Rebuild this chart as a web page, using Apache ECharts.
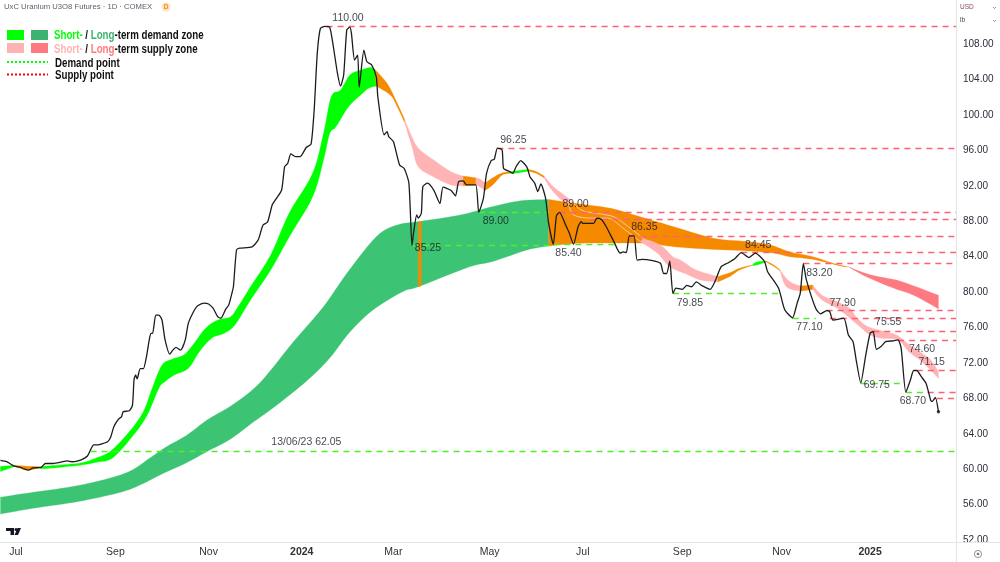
<!DOCTYPE html>
<html>
<head>
<meta charset="utf-8">
<title>UxC Uranium U3O8 Futures</title>
<style>html,body{margin:0;padding:0;background:#fff}#chart{width:1000px;height:562px}</style>
<script src="https://cdn.jsdelivr.net/npm/echarts@6/dist/echarts.min.js"></script>
</head>
<body>
<div id="chart"></div>
<script>
// Daily close as [days since 1 Jul 2023, USD/lb]
const price = [[-10,61],[-6,60.85],[-4,60.65],[-1,60.35],[3,60.2],[5,60.05],[8,59.9],[11,60.15],[16,60.2],[19,60.65],[24,60.65],[29,60.8],[33,60.95],[36,60.85],[40,60.95],[43,61.15],[46,61.5],[48,62.2],[50,62.75],[53,62.75],[55,62.85],[59,63.1],[61,63.65],[63,64.8],[66,65.65],[68,65.95],[69,66.5],[73,66.6],[75,67.25],[76,70.1],[77,70.65],[78,70.2],[80,71.35],[82,71.35],[84,72.7],[86,74.8],[87,75.35],[88,75.35],[90,77.4],[92,77.4],[94,76.85],[96,74.6],[99,73],[101,73.45],[103,73.75],[106,73.45],[109,74.6],[111,76.5],[115,78],[117,78.45],[121,78.75],[124,78.65],[127,78.15],[130,77.2],[132,77.05],[135,78.05],[137,78.55],[139,79.85],[140,80.6],[142,84.75],[144,84.95],[152,85.1],[156,85.9],[159,87.55],[162,87.9],[165,89.85],[167,90.4],[171,91.5],[173,94.15],[175,94.55],[177,95.6],[180,95.3],[183,95.3],[187,96.35],[190,96.7],[192,100.55],[194,106.95],[196,109.75],[199,110],[202,109.9],[204,108.1],[207,104.7],[209,103.25],[211,104.5],[213,109.6],[215,109.9],[216,109.2],[218,106.2],[220,106.75],[221,103.1],[224,107.3],[226,106],[229,105.65],[232,104.3],[233,102.05],[237,97.75],[239,98.1],[240,97.55],[243,97],[247,94.35],[250,93.95],[253,92.3],[255,85.25],[256,86.65],[258,88.7],[259,88.35],[261,88.9],[262,91.9],[265,92.3],[269,91.5],[273,90],[275,91.85],[280,91.5],[283,90.85],[285,92.45],[288,92.55],[290,92.1],[296,92.1],[298,89],[301,90.6],[303,93.4],[306,94.85],[308,95],[310,96.25],[313,96.05],[314,93.95],[318,93.6],[320,93.4],[322,94.15],[325,94.85],[329,94.1],[331,93],[334,92.3],[336,91.35],[338,92.2],[341,90.6],[343,87.75],[346,85.4],[348,88.6],[350,89],[354,87.55],[356,86.8],[359,85.4],[362,87.4],[364,87.95],[365,87.75],[372,87.75],[374,88.35],[377,88.2],[380,87.4],[385,85.7],[389,84.4],[391,84.55],[393,84.45],[395,86.35],[398,86.35],[400,83.6],[403,83.7],[410,83.55],[415,83.25],[417,82.1],[419,82.1],[421,83.5],[423,79.85],[425,80.45],[429,80.3],[432,80.75],[435,80.6],[438,81.15],[442,80.7],[447,80.3],[450,81.15],[454,82.85],[458,83.25],[463,83.8],[467,84.45],[472,83.9],[476,84.4],[482,83.45],[484,82.3],[491,80.45],[495,78],[500,77.1],[503,78.75],[505,79.85],[507,83.2],[509,81.35],[515,78.15],[518,77.55],[522,77.9],[524,77.8],[526,76.85],[533,77.05],[536,75.15],[539,74.4],[541,72.35],[544,69.75],[547,72.7],[550,75.35],[552,75.55],[554,73.55],[557,73.85],[560,74.4],[565,74.5],[568,74.6],[570,73.65],[573,68.7],[576,70.1],[578,71.15],[580,71.15],[583,70.45],[586,69.7],[589,67.8],[590,67.65],[592,68.1],[594,66.5]];

// Long-term zone edges
const longDemandTop = [[-10,56.85],[11,57.4],[33,57.95],[54,58.7],[73,59.75],[86,61.25],[97,62.55],[110,63.85],[123,65.55],[140,67.35],[157,69.75],[178,74.25],[198,78.35],[213,82.1],[232,86.25],[245,87.55],[259,87.95],[286,88.7],[307,89.65],[325,90.3],[343,90.45]];
const longDemandBottom = [[-10,54.95],[11,55.6],[33,56.15],[54,56.85],[71,57.6],[82,58.4],[95,59.55],[110,60.75],[123,62],[138,63.4],[153,65.35],[168,67.25],[188,70.1],[202,72.55],[215,75.5],[230,78],[249,80.05],[259,80.6],[292,82.85],[307,83.45],[329,84.75],[343,85.2]];
const longSpikeTop = [[259,87.95],[261,87.95]];
const longSpikeBottom = [[259,80.6],[261,80.7]];
const longNeutralTop = [[343,90.45],[363,89.95],[383,89.45],[402,88.5],[423,87.4],[441,86.45],[453,85.95],[471,85.7],[486,85.3],[498,84.55],[513,84],[526,83.25],[536,82.85]];
const longNeutralBottom = [[343,85.2],[361,85.5],[384,85.55],[406,85.5],[425,85.1],[445,84.85],[471,84.65],[488,84.4],[498,84],[513,83.7],[531,82.95],[536,82.85]];
const longSupplyTop = [[536,82.85],[550,81.95],[567,81.35],[578,80.7],[594,79.65]];
const longSupplyBottom = [[536,82.85],[548,81.7],[565,80.45],[578,79.65],[594,78.1]];

// Short-term zone edges, segment by segment
const shortDemand1Top = [[-10,60.3],[-1,60.45]];
const shortDemand1Bottom = [[-10,59.75],[-1,60.3]];
const shortNeutral1Top = [[-1,60.45],[7,60.35],[16,60.3]];
const shortNeutral1Bottom = [[-1,60.3],[3,60.1],[8,59.9],[16,60.2]];
const shortDemand2Top = [[16,60.3],[33,60.55],[43,60.75],[52,61.3],[61,62.05],[73,64.25],[82,66.5],[88,69.3],[94,71.75],[100,72.4],[108,72.9],[114,74.05],[122,75.9],[130,76.85],[138,77.2],[143,78.35],[151,80.6],[164,84.2],[176,88.95],[191,93.4],[198,97.9],[203,102.05],[209,102.8],[215,104.5],[222,105.05],[228,105.35],[231,105.15]];
const shortDemand2Bottom = [[16,60.2],[17,60.05],[33,60.3],[43,60.5],[52,60.8],[62,61.25],[74,63.5],[84,65.95],[92,69.15],[96,69.9],[102,70.65],[111,71.4],[118,73.25],[126,74.8],[134,75.35],[141,76.3],[151,79.1],[164,82.5],[176,86.25],[191,90.75],[198,94.9],[202,97.9],[206,98.65],[214,100.9],[222,102.25],[227,103],[232,103.25]];
const shortNeutral2Top = [[231,105.15],[239,103.55],[245,101.5],[250,99.6]];
const shortNeutral2Bottom = [[232,103.25],[241,102.25],[245,101.1],[250,99.25]];
const shortSupply1Top = [[250,99.6],[254,97.9],[259,96.25],[269,94.9],[280,93.6],[288,93.1]];
const shortSupply1Bottom = [[250,99.25],[255,96.4],[259,94.15],[269,93],[280,92.1],[288,92]];
const shortNeutral3Top = [[288,93.1],[296,92.9]];
const shortNeutral3Bottom = [[288,92],[296,92.1]];
const shortSupply2Top = [[296,92.9],[299,92.75],[302,92.3]];
const shortSupply2Bottom = [[296,92.1],[298,91.95],[302,91.45]];
const shortNeutral4Top = [[302,92.3],[307,92.9],[313,93.45],[318,93.6]];
const shortNeutral4Bottom = [[302,91.45],[307,92.1],[313,93.2],[318,93.4]];
const shortDemand3Top = [[318,93.6],[323,93.7],[330,93.85]];
const shortDemand3Bottom = [[318,93.4],[323,93.45],[330,93.65]];
const shortNeutral5Top = [[330,93.85],[335,93.6],[340,93.1]];
const shortNeutral5Bottom = [[330,93.65],[335,93.4],[340,92.9]];
const shortSupply3Top = [[340,93.1],[346,91.9],[353,90.95],[357,90.4]];
const shortSupply3Bottom = [[340,92.9],[344,91.75],[350,90.6],[356,89.85]];
const shortEdgeUpper = [[357,90.4],[364,89.25],[377,88.8],[385,88.5],[393,87.55],[404,86.05]];
const shortEdgeLower = [[356,89.85],[359,88.7],[371,88.35],[381,88.35],[391,87.2],[402,85.7]];
const shortSupply4Top = [[404,86.05],[415,85.3],[423,84],[428,83.6],[438,82.5],[452,81.75]];
const shortSupply4Bottom = [[402,85.7],[413,84.4],[421,82.85],[432,82],[441,81.35],[452,81.15]];
const shortNeutral6Top = [[452,81.75],[460,82.2],[466,82.7],[474,83.05]];
const shortNeutral6Bottom = [[452,81.15],[460,81.8],[466,82.5],[474,83]];
const shortDemand4Top = [[474,83.05],[477,83.4],[483,83.5]];
const shortDemand4Bottom = [[474,83],[477,83.05],[483,83.4]];
const shortNeutral7Top = [[483,83.5],[488,83.05],[492,82.5]];
const shortNeutral7Bottom = [[483,83.4],[488,82.9],[492,82.4]];
const shortSupply5Top = [[492,82.5],[496,81.55],[500,81],[505,80.7]];
const shortSupply5Bottom = [[492,82.4],[496,80.6],[505,80.1]];
const shortNeutral8Top = [[505,80.7],[513,80.8]];
const shortNeutral8Bottom = [[505,80.1],[513,80.3]];
const shortSupply6Top = [[513,80.8],[519,79.65],[529,78.9],[537,78.15],[541,77.2],[548,76.15],[557,75.65],[567,75.15],[574,74.2],[582,73.25],[589,72.35],[594,71]];
const shortSupply6Bottom = [[513,80.3],[519,79.1],[529,78.15],[537,77.05],[544,76],[550,75.15],[557,74.8],[568,74.6],[575,73.25],[582,72.35],[589,71.2],[594,70.25]];

// Horizontal levels as [first day, last day or null for the right edge, price]
const supplyLevels = [[-11,48,62.05],[200,null,110],[310,null,96.25],[350,null,89],[370,null,88.2],[395,null,86.35],[467,null,84.45],[507,null,83.2],[522,null,77.9],[524,null,77.1],[552,null,75.55],[568,null,74.6],[580,null,71.15],[587,null,68.7],[593,null,68]];
const demandLevels = [[48,null,62.05],[255,346,85.25],[298,343,89],[346,386,85.4],[423,491,79.85],[500,515,77.1],[544,570,69.75],[573,587,68.7]];

// Annotated turning points as [day, price]
const turningPoints = [[199,110],[310,96.25],[298,89],[350,89],[255,85.25],[359,85.4],[395,86.35],[467,84.45],[507,83.2],[423,79.85],[522,77.9],[500,77.1],[552,75.55],[568,74.6],[580,71.15],[544,69.75],[573,68.7]];
const turningOffsets = [[23,-8],[16,-8],[17,9],[16,-8],[16,3],[-5,9],[15,-9],[17,-8],[16,9],[17,10],[16,-8],[17,9],[15,-9],[24,9],[15,-8],[16,2],[7,9]];
const baseLevelNote = [187,62.05];

const tickDays = [0,64,124,184,243,305,365,429,493,550];
const tickNames = ['Jul','Sep','Nov','2024','Mar','May','Jul','Sep','Nov','2025'];
const priceTicks = [52,56,60,64,68,72,76,80,84,88,92,96,100,104,108];

const green = '#00ff00', seaGreen = '#3cc474', pale = '#ffb3b5', rose = '#ff7a80', orange = '#f58a00';
const zones = [
  [seaGreen, longDemandTop, longDemandBottom],
  [orange, longNeutralTop, longNeutralBottom],
  [rose, longSupplyTop, longSupplyBottom],
  [green, shortDemand1Top, shortDemand1Bottom],
  [green, shortDemand2Top, shortDemand2Bottom],
  [green, shortDemand3Top, shortDemand3Bottom],
  [green, shortDemand4Top, shortDemand4Bottom],
  [pale, shortSupply1Top, shortSupply1Bottom],
  [pale, shortSupply2Top, shortSupply2Bottom],
  [pale, shortSupply3Top, shortSupply3Bottom],
  [pale, shortSupply4Top, shortSupply4Bottom],
  [pale, shortSupply5Top, shortSupply5Bottom],
  [pale, shortSupply6Top, shortSupply6Bottom],
  [orange, shortNeutral1Top, shortNeutral1Bottom],
  [orange, shortNeutral2Top, shortNeutral2Bottom],
  [orange, shortNeutral3Top, shortNeutral3Bottom],
  [orange, shortNeutral4Top, shortNeutral4Bottom],
  [orange, shortNeutral5Top, shortNeutral5Bottom],
  [orange, shortNeutral6Top, shortNeutral6Bottom],
  [orange, shortNeutral7Top, shortNeutral7Bottom],
  [orange, shortNeutral8Top, shortNeutral8Bottom],
  [orange, longSpikeTop, longSpikeBottom]
];

const dayMin = -10.3, dayMax = 605.3, priceMin = 51.79, priceMax = 112.97;
const sans = '"Liberation Sans", Arial, sans-serif';
const ink = '#131722';

// Rounds a zone edge through its projected points with a Catmull-Rom spline
function roundEdge(pts) {
  if (pts.length < 3) return pts;
  const out = [];
  for (let i = 0; i < pts.length - 1; i++) {
    const p0 = pts[Math.max(0, i - 1)], p1 = pts[i], p2 = pts[i + 1], p3 = pts[Math.min(pts.length - 1, i + 2)];
    for (let k = 0; k < 6; k++) {
      const t = k / 6, t2 = t * t, t3 = t2 * t;
      out.push([0, 1].map(d => 0.5 * (2 * p1[d] + (p2[d] - p0[d]) * t +
        (2 * p0[d] - 5 * p1[d] + 4 * p2[d] - p3[d]) * t2 + (3 * p1[d] - p0[d] - 3 * p2[d] + p3[d]) * t3)));
    }
  }
  out.push(pts[pts.length - 1]);
  return out;
}

function levelSeries(levels, color) {
  return {
    type: 'line', data: [], silent: true, z: 4,
    markLine: {
      silent: true, symbol: 'none', animation: false, label: {show: false},
      lineStyle: {color, width: 1.3, type: [6, 5], opacity: 1},
      emphasis: {disabled: true},
      data: levels.map(([a, b, v]) => [{coord: [a, v]}, {coord: [b === null ? dayMax : b, v]}])
    }
  };
}

function edgeSeries(points) {
  return {type: 'line', data: points, showSymbol: false, silent: true, z: 3, smooth: 0.3, lineStyle: {color: '#ffc9a4', width: 1}};
}

// One condensed key caption; rich colours the Short-/Long- prefixes
function keyText(x, y, text, shortColor, longColor) {
  const face = {fontFamily: sans, fontSize: 12, fontWeight: 'bold'};
  return {
    type: 'text', z: 22, x, y, scaleX: 0.81,
    style: Object.assign({text, fill: '#111'}, face, shortColor ? {
      rich: {a: Object.assign({fill: shortColor}, face), b: Object.assign({fill: longColor}, face)}
    } : {})
  };
}

const chart = echarts.init(document.getElementById('chart'), null, {renderer: 'canvas'});
chart.setOption({
  animation: false,
  backgroundColor: '#fff',
  grid: {left: 0, right: 44, top: 0, bottom: 20, containLabel: false},
  xAxis: {
    type: 'value', min: dayMin, max: dayMax, splitLine: {show: false},
    axisLine: {show: false}, axisTick: {show: false},
    axisLabel: {
      customValues: tickDays, margin: 5, fontFamily: sans, fontSize: 10.5, color: '#333', hideOverlap: false,
      formatter: v => { const n = tickNames[tickDays.indexOf(v)]; return /^\d/.test(n) ? '{y|' + n + '}' : n; },
      rich: {y: {fontWeight: 'bold', fontFamily: sans, fontSize: 10.5, color: '#333'}}
    }
  },
  yAxis: {
    type: 'value', position: 'right', min: priceMin, max: priceMax, splitLine: {show: false},
    axisLine: {show: false}, axisTick: {show: false},
    axisLabel: {
      customValues: priceTicks, margin: 7, fontFamily: sans, fontSize: 10, color: '#2a2e39', align: 'left',
      formatter: v => v.toFixed(2)
    }
  },
  series: [
    {
      type: 'custom', silent: true, z: 2, clip: true,
      data: zones.map(z => z[1][0]),
      encode: {x: 0, y: 1},
      renderItem: (params, api) => {
        const z = zones[params.dataIndex];
        const top = roundEdge(z[1].map(p => api.coord(p)));
        const bottom = roundEdge(z[2].map(p => api.coord(p)));
        return {type: 'polygon', shape: {points: top.concat(bottom.reverse())}, style: {fill: z[0], stroke: z[0], lineWidth: 0.3}};
      }
    },
    edgeSeries(shortEdgeUpper),
    edgeSeries(shortEdgeLower),
    levelSeries(supplyLevels, '#ff5f72'),
    levelSeries(demandLevels, '#4fee28'),
    {
      type: 'line', data: price, showSymbol: false, silent: true, z: 5, smooth: 0.2,
      lineStyle: {color: '#1c1c1c', width: 1.3}
    },
    {
      type: 'scatter', data: [price[price.length - 1]], symbolSize: 3.5, silent: true, z: 6,
      itemStyle: {color: '#111'}
    },
    {
      type: 'scatter', symbolSize: 0, silent: true, z: 7,
      data: turningPoints.map((p, i) => ({
        value: p,
        label: {show: true, position: 'inside', offset: turningOffsets[i], formatter: p[1].toFixed(2),
          fontFamily: sans, fontSize: 10.5, color: ink}
      })).concat([{
        value: baseLevelNote,
        label: {show: true, position: 'inside', offset: [0, -9], formatter: '13/06/23 ' + baseLevelNote[1].toFixed(2),
          fontFamily: sans, fontSize: 10.5, color: ink}
      }])
    }
  ],
  graphic: [
    // Pane frame and the clipped corner under the price scale
    {type: 'rect', z: 20, shape: {x: 956, y: 543, width: 44, height: 19}, style: {fill: '#fff'}},
    {type: 'line', z: 21, shape: {x1: 0, y1: 542.5, x2: 1000, y2: 542.5}, style: {stroke: '#e4e5e8', lineWidth: 1}},
    {type: 'line', z: 21, shape: {x1: 956.5, y1: 0, x2: 956.5, y2: 562}, style: {stroke: '#e4e5e8', lineWidth: 1}},
    {type: 'circle', z: 22, shape: {cx: 978, cy: 554, r: 3.6}, style: {fill: 'none', stroke: '#777', lineWidth: 0.8}},
    {type: 'circle', z: 22, shape: {cx: 978, cy: 554, r: 1.3}, style: {fill: '#777'}},

    // Instrument title and status badge
    {type: 'text', z: 22, x: 4, y: 3, style: {text: 'UxC Uranium U3O8 Futures · 1D · COMEX', fontFamily: sans, fontSize: 7.7, fill: '#5b5f6a'}},
    {type: 'circle', z: 22, shape: {cx: 166, cy: 7, r: 4.5}, style: {fill: '#fde3c4'}},
    {type: 'text', z: 23, x: 166, y: 7, style: {text: 'D', fontFamily: sans, fontSize: 6.5, fontWeight: 'bold', fill: '#f28c1e', align: 'center', verticalAlign: 'middle'}},

    // Currency and unit selectors
    {type: 'text', z: 22, x: 960, y: 4, style: {text: 'USD', fontFamily: sans, fontSize: 6.5, fill: '#8a4a55'}},
    {type: 'text', z: 22, x: 960, y: 17, style: {text: 'lb', fontFamily: sans, fontSize: 6.5, fill: '#444'}},
    {type: 'polyline', z: 22, shape: {points: [[993, 7], [994.5, 8.5], [996, 7]]}, style: {stroke: '#666', lineWidth: 0.7, fill: 'none'}},
    {type: 'polyline', z: 22, shape: {points: [[993, 20], [994.5, 21.5], [996, 20]]}, style: {stroke: '#666', lineWidth: 0.7, fill: 'none'}},

    // Key
    {type: 'rect', z: 22, shape: {x: 7, y: 30, width: 17, height: 10}, style: {fill: green}},
    {type: 'rect', z: 22, shape: {x: 31, y: 30, width: 17, height: 10}, style: {fill: '#3cb371'}},
    {type: 'rect', z: 22, shape: {x: 7, y: 43, width: 17, height: 10}, style: {fill: pale}},
    {type: 'rect', z: 22, shape: {x: 31, y: 43, width: 17, height: 10}, style: {fill: rose}},
    {type: 'line', z: 22, shape: {x1: 7, y1: 62, x2: 48, y2: 62}, style: {stroke: green, lineWidth: 2, lineDash: [2, 2]}},
    {type: 'line', z: 22, shape: {x1: 7, y1: 74.5, x2: 48, y2: 74.5}, style: {stroke: '#ff0000', lineWidth: 2, lineDash: [2, 2]}},
    keyText(54, 30, '{a|Short-} / {b|Long}-term demand zone', green, '#3cb371'),
    keyText(54, 43.5, '{a|Short-} / {b|Long}-term supply zone', pale, rose),
    keyText(55, 57.5, 'Demand point'),
    keyText(55, 69.5, 'Supply point'),

    // Vendor mark
    {type: 'polygon', z: 22, shape: {points: [[6, 528], [14, 528], [14, 535], [10.5, 535], [10.5, 531], [6, 531]]}, style: {fill: '#131722'}},
    {type: 'circle', z: 22, shape: {cx: 16, cy: 529.5, r: 1.5}, style: {fill: '#131722'}},
    {type: 'polygon', z: 22, shape: {points: [[17.5, 528], [21, 528], [18, 535], [14.5, 535]]}, style: {fill: '#131722'}}
  ]
});
</script>
</body>
</html>
